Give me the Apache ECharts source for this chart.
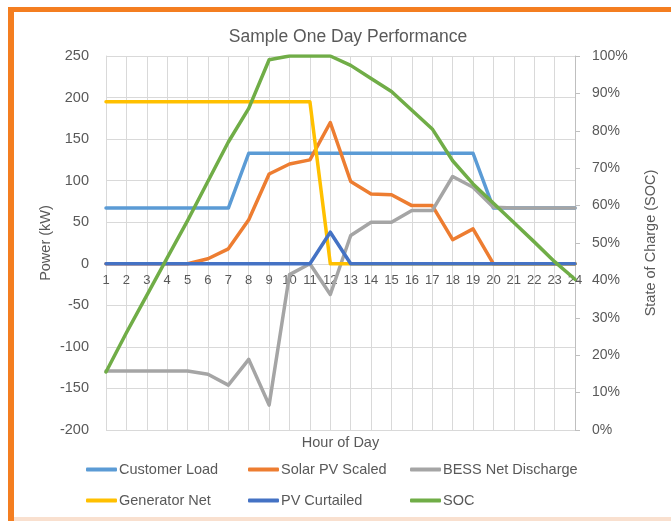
<!DOCTYPE html>
<html>
<head>
<meta charset="utf-8">
<script src="https://cdn.jsdelivr.net/npm/echarts@6/dist/echarts.min.js"></script>
<style>
html,body{margin:0;padding:0;background:#fff;}
#chart{width:671px;height:521px;}
</style>
</head>
<body>
<div id="chart"></div>
<script>
const hours = ['1','2','3','4','5','6','7','8','9','10','11','12','13','14','15','16','17','18','19','20','21','22','23','24'];
const customerLoad = [67,67,67,67,67,67,67,133,133,133,133,133,133,133,133,133,133,133,133,67,67,67,67,67];
const solarPV = [0,0,0,0,0,6,18,53,108,120,125,170,99,84,83,70,70,29,42,0,0,0,0,0];
const bessNet = [-129,-129,-129,-129,-129,-133,-146,-115,-170,-13,0,-37,34,50,50,64,64,105,92,68,67,67,67,67];
const generatorNet = [195,195,195,195,195,195,195,195,195,195,195,0,0,0,0,0,0,0,0,0,0,0,0,0];
const pvCurtailed = [0,0,0,0,0,0,0,0,0,0,0,38,0,0,0,0,0,0,0,0,0,0,0,0];
const soc = [0.155,0.26,0.36,0.46,0.56,0.665,0.77,0.86,0.99,1.0,1.0,1.0,0.975,0.94,0.905,0.855,0.805,0.72,0.658,0.606,0.555,0.503,0.45,0.403];
const seriesNames = ['Customer Load','Solar PV Scaled','BESS Net Discharge','Generator Net','PV Curtailed','SOC'];
const seriesColors = ['#5B9BD5','#ED7D31','#A5A5A5','#FFC000','#4472C4','#70AD47'];
const seriesData = [customerLoad, solarPV, bessNet, generatorNet, pvCurtailed, soc];

const FONT = 'Liberation Sans';
const TXT = '#595959';
const chart = echarts.init(document.getElementById('chart'), null, {renderer:'canvas'});

const legendPos = [[86,462],[248,462],[410,462],[86,493],[248,493],[410,493]];

// plot area geometry
const H = 521;
const G = {left:106, right:96, top:56, bottom:91};
const yMin = -200, yMax = 250;
const plotH = H - G.top - G.bottom;
const zeroFromBottom = (-yMin / (yMax - yMin)) * plotH; // zero line height above plot bottom

const option = {
  backgroundColor:'#fff',
  animation:false,
  textStyle:{fontFamily:FONT},
  title:{
    text:'Sample One Day Performance',
    left:343, top:23, textAlign:'center',
    textStyle:{fontFamily:FONT,fontSize:17.5,fontWeight:'normal',color:TXT}
  },
  legend: seriesNames.map((n,i)=>({
    data:[n], left:legendPos[i][0], top:legendPos[i][1],
    icon:'roundRect', itemWidth:31, itemHeight:4, padding:0,
    textStyle:{fontFamily:FONT,fontSize:14.5,color:TXT,padding:[0,0,0,-3]}
  })),
  grid:[
    {left:G.left,right:G.right,top:G.top,bottom:G.bottom,containLabel:false,outerBoundsMode:'none'},
    // helper grid whose bottom edge sits on the zero line: carries the category labels
    {left:G.left,right:G.right,top:G.top,bottom:G.bottom + zeroFromBottom,containLabel:false,outerBoundsMode:'none'}
  ],
  xAxis:[{
    type:'category', data:hours, boundaryGap:false, gridIndex:0,
    name:'Hour of Day', nameLocation:'middle', nameGap:5, nameMoveOverlap:false,
    nameTextStyle:{fontFamily:FONT,fontSize:14.5,color:TXT,verticalAlign:'top'},
    axisLine:{show:false,onZero:false},
    axisTick:{show:false},
    axisLabel:{show:false},
    splitLine:{show:true,interval:0,lineStyle:{color:'#D9D9D9',width:1}}
  },{
    type:'category', data:hours, boundaryGap:false, gridIndex:1, position:'bottom', z:0,
    axisLine:{show:true,onZero:false,lineStyle:{color:'#D9D9D9',width:1}},
    axisTick:{show:false},
    axisLabel:{show:true,color:TXT,fontFamily:FONT,fontSize:13,margin:10,interval:0},
    splitLine:{show:false}
  }],
  yAxis:[{
    type:'value', min:yMin, max:yMax, interval:50, gridIndex:0,
    name:'Power (kW)', nameLocation:'middle', nameGap:53, nameMoveOverlap:false,
    nameTextStyle:{fontFamily:FONT,fontSize:14.5,color:TXT},
    axisLine:{show:true,lineStyle:{color:'#D9D9D9'}},
    axisTick:{show:false},
    axisLabel:{color:TXT,fontFamily:FONT,fontSize:14.5,margin:17},
    splitLine:{show:true,lineStyle:{color:'#D9D9D9',width:1}}
  },{
    type:'value', min:0, max:1, interval:0.1, position:'right', gridIndex:0,
    name:'State of Charge (SOC)', nameLocation:'middle', nameGap:68,
    nameTextStyle:{fontFamily:FONT,fontSize:14.5,color:TXT},
    axisLine:{show:true,lineStyle:{color:'#BFBFBF'}},
    axisTick:{show:true,inside:false,length:5,lineStyle:{color:'#BFBFBF'}},
    axisLabel:{color:TXT,fontFamily:FONT,fontSize:14,margin:17,formatter:v=>Math.round(v*100)+'%'},
    splitLine:{show:false}
  },{
    type:'value', gridIndex:1, show:false, min:0, max:1
  }],
  series: seriesNames.map((n,i)=>({
    name:n, type:'line', data:seriesData[i], xAxisIndex:0, yAxisIndex: n==='SOC'?1:0,
    showSymbol:false, symbol:'none', smooth:false, z:5,
    lineStyle:{color:seriesColors[i],width:3.5,cap:'round',join:'round'},
    itemStyle:{color:seriesColors[i]}
  })),
  graphic:[
    {type:'rect',shape:{x:8,y:7,width:663,height:5},style:{fill:'#F47E20'},z:100},
    {type:'rect',shape:{x:8,y:7,width:6,height:514},style:{fill:'#F47E20'},z:100},
    {type:'rect',shape:{x:14,y:517,width:657,height:4},style:{fill:'#F9E0CF'},z:100}
  ]
};
chart.setOption(option);
</script>
</body>
</html>
